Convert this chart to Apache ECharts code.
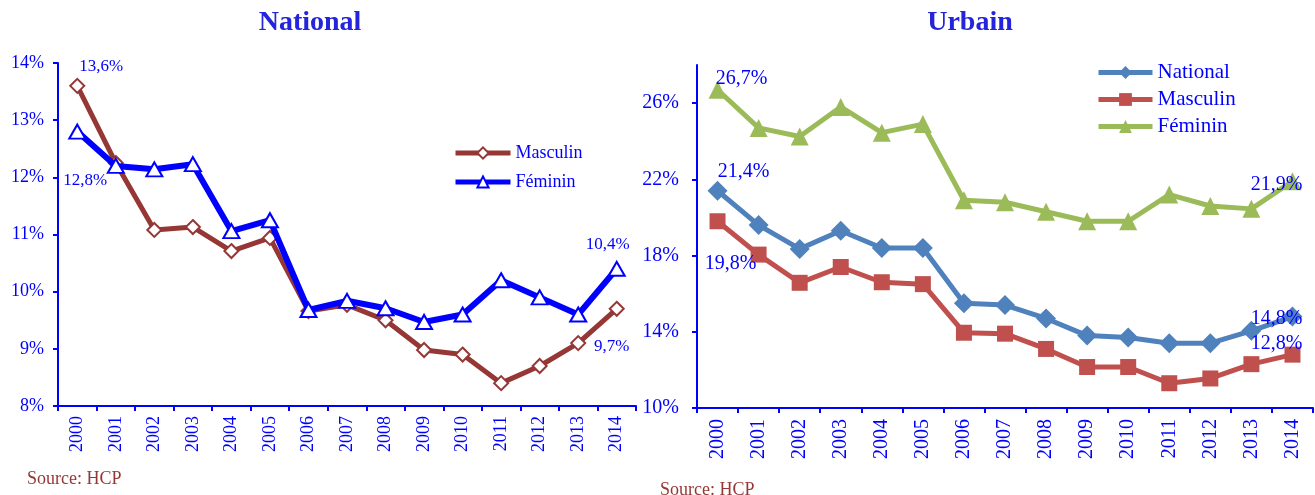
<!DOCTYPE html>
<html>
<head>
<meta charset="utf-8">
<script src="https://cdn.jsdelivr.net/npm/echarts@6/dist/echarts.min.js"></script>
<style>html,body{margin:0;padding:0;background:#fff}#c{width:1315px;height:495px}</style>
</head>
<body>
<div id="c"></div>
<script>
const years = ['2000','2001','2002','2003','2004','2005','2006','2007','2008','2009','2010','2011','2012','2013','2014'];
// National chart
const natMasculin = [13.6,12.25,11.08,11.13,10.71,10.94,9.66,9.77,9.5,8.98,8.9,8.4,8.7,9.1,9.7];
const natFeminin  = [12.8,12.2,12.14,12.23,11.06,11.25,9.68,9.84,9.71,9.47,9.6,10.2,9.9,9.6,10.4];
const natTicks = [8,9,10,11,12,13,14];
// Urbain chart
const urbNational = [21.4,19.6,18.35,19.3,18.4,18.4,15.5,15.4,14.7,13.8,13.7,13.4,13.4,14.05,14.8];
const urbMasculin = [19.8,18.05,16.57,17.4,16.6,16.5,13.95,13.9,13.1,12.15,12.15,11.3,11.55,12.3,12.8];
const urbFeminin  = [26.7,24.7,24.25,25.8,24.45,24.9,20.9,20.8,20.3,19.8,19.8,21.2,20.6,20.45,21.9];
const urbTicks = [10,14,18,22,26];

const FONT = 'Liberation Serif';
const BLUE = '#0000ff';
const fmt = v => String(v).replace('.', ',') + '%';

function withLabels(values, labels) {
  return values.map((v, i) => {
    const l = labels[i];
    if (!l) return v;
    return {value: v, label: Object.assign({show: true, formatter: p => fmt(p.value),
      color: BLUE, fontFamily: FONT}, l)};
  });
}

const axisLineStyle = {show: true, lineStyle: {color: BLUE, width: 2}};

const chart = echarts.init(document.getElementById('c'));
chart.setOption({
  animation: false,
  backgroundColor: '#fff',
  title: [
    {text: 'National', left: 305, textAlign: 'center', top: 4,
     textStyle: {fontFamily: FONT, fontWeight: 'bold', fontSize: 28, color: '#2424dc'}},
    {text: 'Urbain', left: 965, textAlign: 'center', top: 4,
     textStyle: {fontFamily: FONT, fontWeight: 'bold', fontSize: 28, color: '#2424dc'}},
    {text: 'Source: HCP', left: 22, top: 465,
     textStyle: {fontFamily: FONT, fontWeight: 'normal', fontSize: 18, color: '#953735'}},
    {text: 'Source: HCP', left: 655, top: 476,
     textStyle: {fontFamily: FONT, fontWeight: 'normal', fontSize: 18, color: '#953735'}}
  ],
  legend: [
    {data: ['Masculin', 'Féminin'], orient: 'vertical', left: 448, top: 139,
     itemWidth: 55, itemHeight: 14, itemGap: 11, lineStyle: {width: 5},
     textStyle: {fontFamily: FONT, fontSize: 18, color: BLUE, lineHeight: 18}},
    {data: ['National_U', 'Masculin_U', 'Féminin_U'], orient: 'vertical', left: 1091, top: 57,
     itemWidth: 54, itemHeight: 16, itemGap: 6, formatter: n => n.replace('_U', ''), lineStyle: {width: 5},
     textStyle: {fontFamily: FONT, fontSize: 21, color: BLUE, lineHeight: 21}}
  ],
  grid: [
    {left: 58, right: 679, top: 63, bottom: 89},
    {left: 697, right: 2, top: 65, bottom: 87}
  ],
  xAxis: [
    {type: 'category', gridIndex: 0, data: years, boundaryGap: true,
     axisLine: axisLineStyle, axisTick: {show: true, length: 5, lineStyle: {color: BLUE, width: 2}},
     axisLabel: {rotate: 90, color: BLUE, fontFamily: FONT, fontSize: 18, margin: 10, interval: 0}},
    {type: 'category', gridIndex: 1, data: years, boundaryGap: true,
     axisLine: axisLineStyle, axisTick: {show: true, length: 5, lineStyle: {color: BLUE, width: 2}},
     axisLabel: {rotate: 90, color: BLUE, fontFamily: FONT, fontSize: 20, margin: 11, interval: 0}}
  ],
  yAxis: [
    {type: 'value', gridIndex: 0, min: natTicks[0], max: natTicks[natTicks.length - 1], interval: 1,
     splitLine: {show: false}, axisLine: axisLineStyle,
     axisTick: {show: true, length: 5, lineStyle: {color: BLUE, width: 2}},
     axisLabel: {color: BLUE, fontFamily: FONT, fontSize: 18, margin: 14, formatter: v => v + '%'}},
    {type: 'value', gridIndex: 1, min: 10, max: 28,
     splitLine: {show: false}, axisLine: axisLineStyle,
     axisTick: {show: true, length: 5, lineStyle: {color: BLUE, width: 2}, customValues: urbTicks},
     axisLabel: {color: BLUE, fontFamily: FONT, fontSize: 20, margin: 18, formatter: v => v + '%', customValues: urbTicks}}
  ],
  series: [
    {name: 'Masculin', type: 'line', xAxisIndex: 0, yAxisIndex: 0, z: 2,
     symbol: 'emptyDiamond', symbolSize: 14, color: '#953735',
     lineStyle: {width: 5, color: '#953735'}, itemStyle: {borderWidth: 2},
     data: withLabels(natMasculin, {0: {position: 'top', offset: [24, 2], fontSize: 17},
                                    14: {position: 'bottom', offset: [-5, 16], fontSize: 17}})},
    {name: 'Féminin', type: 'line', xAxisIndex: 0, yAxisIndex: 0, z: 3,
     symbol: 'emptyTriangle', symbolSize: [16, 14], color: BLUE,
     lineStyle: {width: 6, color: BLUE}, itemStyle: {borderWidth: 2},
     data: withLabels(natFeminin, {0: {position: 'bottom', offset: [8, 27], fontSize: 17},
                                   14: {position: 'top', offset: [-9, -3], fontSize: 17}})},
    {name: 'National_U', type: 'line', xAxisIndex: 1, yAxisIndex: 1, clip: false,
     symbol: 'diamond', symbolSize: 20, color: '#4f81bd',
     lineStyle: {width: 5, color: '#4f81bd'},
     data: withLabels(urbNational, {0: {position: 'top', offset: [26, 6], fontSize: 20},
                                    14: {position: 'top', offset: [-16, 27], fontSize: 20}})},
    {name: 'Masculin_U', type: 'line', xAxisIndex: 1, yAxisIndex: 1, clip: false,
     symbol: 'rect', symbolSize: 16, color: '#c0504d',
     lineStyle: {width: 5, color: '#c0504d'},
     data: withLabels(urbMasculin, {0: {position: 'bottom', offset: [13, 19], fontSize: 20},
                                    14: {position: 'top', offset: [-16, 12], fontSize: 20}})},
    {name: 'Féminin_U', type: 'line', xAxisIndex: 1, yAxisIndex: 1, clip: false,
     symbol: 'triangle', symbolSize: 18, color: '#9bbb59',
     lineStyle: {width: 5, color: '#9bbb59'},
     data: withLabels(urbFeminin, {0: {position: 'top', offset: [24, 13], fontSize: 20},
                                   14: {position: 'top', offset: [-16, 28], fontSize: 20}})}
  ]
});
</script>
</body>
</html>
